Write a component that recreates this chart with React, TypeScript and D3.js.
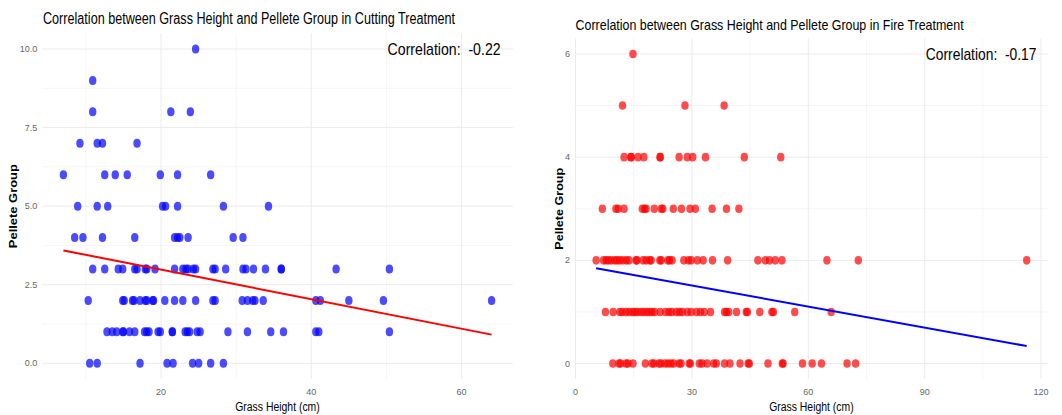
import React from 'react';
import * as d3 from 'd3';

// grass heights (cm) listed per pellet group: index of the inner array = pellet group
const cuttingHeights: number[][] = [
  [10.5, 11.5, 17.2, 20.8, 21.6, 24.2, 25.0, 26.6, 28.3],
  [12.8, 13.5, 14.1, 14.9, 15.0, 15.8, 16.5, 17.8, 18.1, 18.4, 19.6, 19.9, 21.5, 21.5, 23.2, 23.5, 23.8, 24.8, 25.2, 28.9, 31.5, 34.6, 36.3, 40.6, 41.0, 50.4],
  [10.3, 14.9, 15.1, 16.2, 16.4, 17.2, 17.9, 18.1, 18.9, 19.0, 20.5, 21.8, 22.9, 24.6, 26.9, 27.2, 30.8, 31.5, 32.2, 32.5, 33.6, 40.6, 41.2, 45.0, 49.6, 64.0],
  [10.9, 12.5, 14.3, 14.9, 16.5, 16.8, 17.9, 18.1, 19.2, 21.8, 22.9, 23.3, 23.6, 24.3, 24.6, 26.9, 27.2, 28.6, 30.9, 31.3, 32.3, 33.9, 36.0, 36.0, 43.3, 50.4],
  [8.5, 9.6, 12.2, 16.5, 21.8, 22.2, 22.5, 23.6, 29.6, 30.9],
  [8.9, 11.5, 12.9, 20.2, 20.6, 22.2, 28.3, 34.3],
  [7.0, 12.5, 13.9, 15.5, 19.9, 22.2, 26.6],
  [9.2, 11.5, 12.2, 16.8],
  [10.9, 21.3, 23.9],
  [10.9],
  [24.6],
];

const fireHeights: number[][] = [
  [9.6, 11.2, 11.6, 13.0, 13.5, 14.8, 18.0, 19.7, 20.2, 21.5, 22.0, 23.0, 23.8, 24.6, 25.3, 26.7, 27.2, 29.3, 29.6, 31.9, 32.6, 33.9, 35.6, 36.3, 38.4, 39.8, 42.4, 44.5, 44.8, 49.6, 53.3, 53.5, 58.5, 61.0, 63.4, 70.0, 72.2],
  [7.7, 9.7, 11.4, 12.0, 13.0, 13.8, 14.7, 15.3, 15.9, 16.8, 17.5, 18.3, 19.0, 19.7, 20.4, 21.8, 23.2, 24.1, 24.8, 26.0, 26.8, 27.5, 28.8, 29.8, 31.2, 32.2, 33.2, 34.8, 38.4, 38.9, 39.5, 41.5, 44.0, 44.3, 47.5, 50.6, 51.0, 56.5, 65.9],
  [5.3, 7.2, 7.9, 8.5, 9.2, 10.1, 10.7, 11.4, 12.2, 13.1, 13.8, 15.6, 15.8, 17.4, 18.2, 19.1, 19.5, 21.7, 22.1, 23.8, 24.2, 24.9, 27.9, 29.1, 29.8, 31.4, 32.9, 35.3, 39.2, 47.0, 48.9, 50.0, 51.5, 53.2, 64.8, 72.9, 116.3],
  [6.9, 10.4, 11.0, 12.5, 17.2, 17.8, 18.2, 20.3, 22.1, 22.5, 25.2, 27.3, 29.5, 30.9, 35.2, 38.9, 42.1],
  [12.5, 14.2, 14.4, 16.1, 17.6, 21.8, 21.8, 26.7, 28.8, 30.2, 33.5, 43.5, 52.9],
  [12.1, 28.2, 38.3],
  [14.8],
];

const cuttingTicksX = [20, 40, 60];
const cuttingTicksY = [0, 2.5, 5, 7.5, 10];
const fireTicksX = [0, 30, 60, 90, 120];
const fireTicksY = [0, 2, 4, 6];

// linear fits: [intercept, slope]
const cuttingFit = [3.92, -0.047];
const fireFit = [1.92, -0.0136];

const cuttingCorr = -0.22;
const fireCorr = -0.17;

const FONT = '"Liberation Sans", Arial, sans-serif';

interface PanelProps {
  heights: number[][];
  ticksX: number[];
  ticksY: number[];
  fmtY: (n: number) => string;
  fit: number[];
  corr: number;
  corrX: number;
  corrLen: number;
  title: string;
  titleSize: number;
  titleLen: number;
  titleY: number;
  left: number;
  right: number;
  top: number;
  bottom: number;
  yTitleX: number;
  yTitleLen: number;
  dot: string;
  line: string;
  ry: number;
}

function minorTicks(ticks: number[], dom: number[]) {
  const step = ticks[1] - ticks[0];
  const out: number[] = [];
  for (let v = ticks[0] - step / 2; v <= dom[1]; v += step) {
    if (v >= dom[0]) out.push(v);
  }
  return out;
}

function Panel(p: PanelProps) {
  const points = p.heights.flatMap((hs, g) => hs.map(h => [h, g] as [number, number]));
  const [x0, x1] = d3.extent(points, d => d[0]) as [number, number];
  const [y0, y1] = d3.extent(points, d => d[1]) as [number, number];
  const ex = (x1 - x0) * 0.05;
  const ey = (y1 - y0) * 0.05;
  const x = d3.scaleLinear().domain([x0 - ex, x1 + ex]).range([p.left, p.right]);
  const y = d3.scaleLinear().domain([y0 - ey, y1 + ey]).range([p.bottom, p.top]);

  const fitLine = d3.line<number>()
    .x(d => x(d))
    .y(d => y(p.fit[0] + p.fit[1] * d));

  const minorX = minorTicks(p.ticksX, x.domain());
  const minorY = minorTicks(p.ticksY, y.domain());
  const cx = (p.left + p.right) / 2;
  const cy = (p.top + p.bottom) / 2;

  return (
    <g fontFamily={FONT}>
      {minorX.map(v => (
        <line key={'mx' + v} x1={x(v)} x2={x(v)} y1={p.top} y2={p.bottom} stroke="#f2f2f2" strokeWidth={0.8} />
      ))}
      {minorY.map(v => (
        <line key={'my' + v} x1={p.left} x2={p.right} y1={y(v)} y2={y(v)} stroke="#f2f2f2" strokeWidth={0.8} />
      ))}
      {p.ticksX.map(v => (
        <line key={'gx' + v} x1={x(v)} x2={x(v)} y1={p.top} y2={p.bottom} stroke="#ebebeb" strokeWidth={1} />
      ))}
      {p.ticksY.map(v => (
        <line key={'gy' + v} x1={p.left} x2={p.right} y1={y(v)} y2={y(v)} stroke="#ebebeb" strokeWidth={1} />
      ))}

      {points.map((d, i) => (
        <ellipse key={i} cx={x(d[0])} cy={y(d[1])} rx={3.7} ry={p.ry} fill={p.dot} fillOpacity={0.7} />
      ))}

      <path d={fitLine([x0, x1]) || ''} fill="none" stroke={p.line} strokeWidth={2} />

      {p.ticksY.map(v => (
        <text key={'ty' + v} x={p.left - 4.7} y={y(v)} dy="0.35em" textAnchor="end" fontSize={9} fill="#666">
          {p.fmtY(v)}
        </text>
      ))}
      {p.ticksX.map(v => (
        <text key={'tx' + v} x={x(v)} y={p.bottom + 15.5} textAnchor="middle" fontSize={9} fill="#666">
          {d3.format('d')(v)}
        </text>
      ))}

      <text x={p.left + 1} y={p.titleY} fontSize={p.titleSize} textLength={p.titleLen} lengthAdjust="spacingAndGlyphs" fill="#000">
        {p.title}
      </text>
      <text x={x(p.corrX) - p.corrLen} y={y(y1)} dy="0.35em" fontSize={17} textLength={p.corrLen} lengthAdjust="spacingAndGlyphs" fill="#000" style={{ whiteSpace: 'pre' }}>
        {'Correlation:  ' + p.corr.toFixed(2)}
      </text>
      <text x={cx} y={411} textAnchor="middle" fontSize={12.5} textLength={84.5} lengthAdjust="spacingAndGlyphs" fill="#000">
        Grass Height (cm)
      </text>
      <text transform={`translate(${p.yTitleX},${cy}) rotate(-90)`} textAnchor="middle" fontSize={11.5} fontWeight="bold" textLength={p.yTitleLen} lengthAdjust="spacingAndGlyphs" fill="#000">
        Pellete Group
      </text>
    </g>
  );
}

export default function App() {
  return (
    <svg width={1062} height={415} style={{ position: 'absolute', left: 0, top: 0, background: '#fff' }}>
      <Panel
        heights={cuttingHeights}
        ticksX={cuttingTicksX}
        ticksY={cuttingTicksY}
        fmtY={d3.format('.1f')}
        fit={cuttingFit}
        corr={cuttingCorr}
        corrX={65.2}
        corrLen={113}
        title="Correlation between Grass Height and Pellete Group in Cutting Treatment"
        titleSize={16}
        titleLen={412}
        titleY={24}
        left={42}
        right={513}
        top={33.3}
        bottom={379}
        yTitleX={16.7}
        yTitleLen={84}
        dot="#0000ff"
        line="#ff0000"
        ry={4.5}
      />
      <Panel
        heights={fireHeights}
        ticksX={fireTicksX}
        ticksY={fireTicksY}
        fmtY={d3.format('d')}
        fit={fireFit}
        corr={fireCorr}
        corrX={118.8}
        corrLen={110.5}
        title="Correlation between Grass Height and Pellete Group in Fire Treatment"
        titleSize={14.5}
        titleLen={388}
        titleY={29.5}
        left={574.6}
        right={1048.2}
        top={38.5}
        bottom={379}
        yTitleX={562.5}
        yTitleLen={82}
        dot="#ff0000"
        line="#0000ff"
        ry={4.3}
      />
    </svg>
  );
}
